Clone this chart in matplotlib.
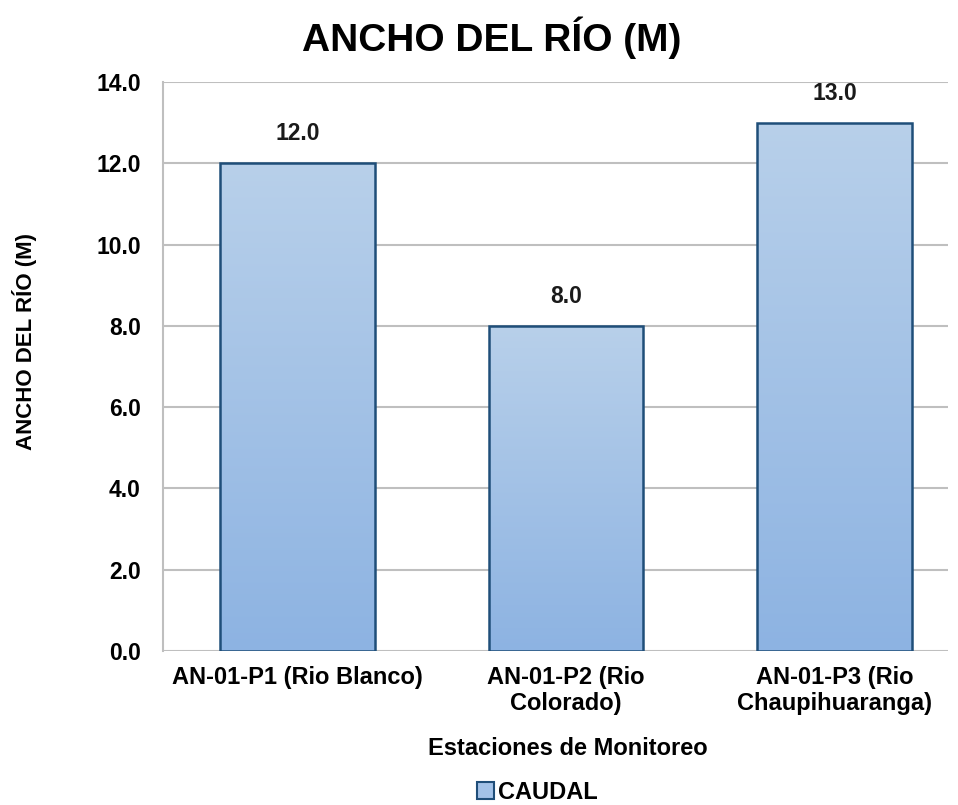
import matplotlib
matplotlib.use("Agg")
import matplotlib.pyplot as plt
import numpy as np
from matplotlib.patches import Patch
from matplotlib.colors import LinearSegmentedColormap

plt.rcParams['font.family'] = ['Liberation Sans', 'DejaVu Sans']

categories = ["AN-01-P1 (Rio Blanco)", "AN-01-P2 (Rio\nColorado)", "AN-01-P3 (Rio\nChaupihuaranga)"]
values = [12.0, 8.0, 13.0]
yticks = [0, 2, 4, 6, 8, 10, 12, 14]
series_name = "CAUDAL"

W, H = 958, 805
fig = plt.figure(figsize=(W / 100, H / 100), dpi=100)
ax = fig.add_axes([163 / W, 1 - 651 / H, 785 / W, (651 - 82) / H])

x = np.arange(len(categories))
bars = ax.bar(x, values, width=0.577, color='none', edgecolor='#1f4e79', linewidth=1.8, zorder=3)

cmap = LinearSegmentedColormap.from_list('g', ['#8db3e2', '#b8d0ea'])
grad = np.linspace(0, 1, 256).reshape(-1, 1)
for b in bars:
    x0, y0 = b.get_x(), b.get_y()
    w, h = b.get_width(), b.get_height()
    im = ax.imshow(grad, cmap=cmap, aspect='auto', origin='lower',
                   extent=[x0, x0 + w, y0, y0 + h], zorder=2)
    im.set_clip_path(b)

for xi, v in zip(x, values):
    ax.annotate(f"{v:.1f}", (xi, v), xytext=(0, 13), textcoords='offset points',
                ha='center', va='bottom', fontsize=16.5, fontweight='bold', color='#1a1a1a')

ax.set_xlim(-0.501, 2.423)
ax.set_ylim(0, 14)
ax.set_yticks(yticks)
ax.set_yticklabels([f"{t:.1f}" for t in yticks], fontsize=16.5, fontweight='bold')
ax.set_xticks(x)
ax.set_xticklabels(categories, fontsize=17, fontweight='bold', linespacing=1.15)
ax.tick_params(axis='y', length=0, pad=16)
ax.tick_params(axis='x', length=0, pad=11)
ax.yaxis.grid(True, color='#bfbfbf', linewidth=1.5, zorder=0)
ax.set_axisbelow(True)
for s in ['top', 'right', 'bottom']:
    ax.spines[s].set_visible(False)
ax.spines['left'].set_color('#bfbfbf')
ax.spines['left'].set_linewidth(1.5)

fig.text(492 / W, 1 - 38 / H, "ANCHO DEL RÍO (M)", fontsize=28, fontweight='bold',
         ha='center', va='center')
fig.text(25 / W, 1 - 342 / H, "ANCHO DEL RÍO (M)", fontsize=16, fontweight='bold',
         ha='center', va='center', rotation=90)
fig.text(568 / W, 1 - 748 / H, "Estaciones de Monitoreo", fontsize=17, fontweight='bold',
         ha='center', va='center')

handle = Patch(facecolor='#a3c2e8', edgecolor='#1f4e79', linewidth=1.5)
fig.legend([handle], [series_name], loc='center', bbox_to_anchor=(537 / W, 1 - 792 / H),
           frameon=False, prop={'weight': 'bold', 'size': 17},
           handlelength=0.75, handleheight=0.75, handletextpad=0.15, borderpad=0)

fig.savefig("out.png", dpi=100)
